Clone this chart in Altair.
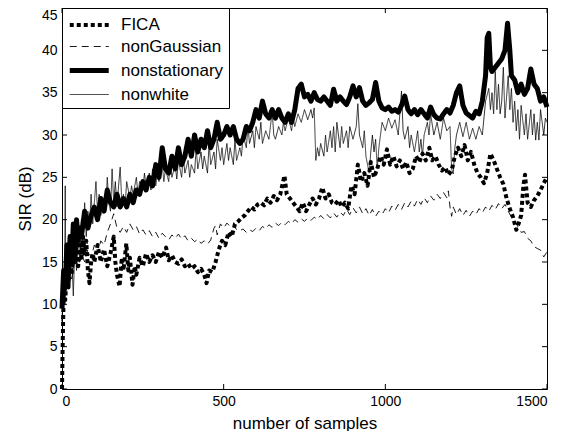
import altair as alt
import pandas as pd

# ---------------- data ----------------
series_names = ["FICA", "nonGaussian", "nonstationary", "nonwhite"]

ns_x = [0, 5, 10, 15, 20, 25, 30, 35, 40, 45, 50, 55, 60, 70, 80, 90, 100, 110, 120, 130,
        140, 150, 160, 170, 180, 190, 200, 210, 220, 230, 240, 250, 260, 270, 280, 290, 300,
        310, 320, 330, 340, 350, 360, 370, 380, 390, 400, 410, 420, 430, 440, 450, 460, 470,
        480, 490, 500, 510, 520, 530, 540, 550, 560, 570, 580, 590, 600, 610, 620, 630, 640,
        650, 660, 670, 680, 690, 700, 710, 720, 730, 740, 750, 760, 770, 780, 790, 800, 810,
        820, 830, 840, 850, 860, 870, 880, 890, 900, 910, 920, 930, 940, 950, 960, 970, 980,
        990, 1000, 1010, 1020, 1030, 1040, 1050, 1060, 1070, 1080, 1090, 1100, 1110, 1120,
        1130, 1140, 1150, 1160, 1170, 1180, 1190, 1200, 1210, 1220, 1230, 1240, 1250, 1260,
        1270, 1280, 1290, 1300, 1310, 1315, 1320, 1325, 1330, 1340, 1350, 1360, 1370, 1378,
        1385, 1390, 1400, 1410, 1420, 1430, 1440, 1450, 1460, 1470, 1480, 1490, 1500]
ns_y = [9.5, 14, 12, 17, 13.5, 18, 15, 19.5, 16, 20, 17.5, 19, 18, 21, 19, 20.5, 21.5, 20, 22.5, 21,
        23.5, 22, 21.5, 23, 21.5, 22.5, 21.5, 23, 22, 23.5, 23, 24.5, 23.5, 25, 24, 26.5, 25,
        28.5, 26, 25.5, 27.5, 26, 28.5, 26.5, 27.5, 29.5, 27.5, 30, 28, 29.5, 28.5, 30.5, 28.5, 29.5,
        31.5, 29.5, 30, 31, 30, 31, 29.5, 29, 29.5, 31, 30.5, 31.5, 33, 32, 34, 32.5, 32,
        33, 32, 33, 32, 31.5, 32.5, 31.5, 33, 35.5, 36, 34.5, 34.8, 34, 35, 34.2, 34, 34.5,
        34, 33.5, 35.4, 34, 34.5, 34, 33.6, 34.5, 35.8, 34.5, 35.6, 34, 33.5, 33.8, 34.2, 36.2, 34,
        33.2, 33, 33.3, 32.8, 33, 32.7, 33.5, 34.6, 33, 32.5, 33, 32.4, 33, 32.5,
        32, 33.3, 32.4, 32, 31.9, 32.5, 33, 32.6, 33.5, 35, 35.8, 33.5, 32.6, 32.3,
        32, 32.8, 32.5, 34, 37, 41.5, 42, 38, 37.5, 38, 38.5, 39, 40, 43.2,
        40, 37, 36.5, 35, 36, 34.8, 35.5, 37.8, 36, 35.5, 34, 34.5, 33.3]

nw_x = [0, 5, 8, 10, 12, 18, 25, 30, 35, 40, 45, 50, 55, 60, 65, 70, 75, 80, 85, 90, 95, 100,
        105, 110, 115, 120, 130, 135, 140, 145, 150, 155, 160, 165, 170, 175, 180, 185, 190,
        195, 200, 210, 215, 220, 230, 235, 240, 250, 255, 260, 270, 275, 280, 290, 295, 300,
        310, 315, 320, 330, 335, 340, 350, 355, 360, 370, 375, 380, 390, 395, 400, 410, 415,
        420, 430, 435, 440, 450, 455, 460, 470, 475, 480, 490, 495, 500, 510, 515, 520, 530,
        535, 540, 550, 555, 560, 570, 575, 580, 590, 595, 600, 610, 615, 620, 630, 640, 650,
        655, 660, 670, 680, 685, 690, 700, 710, 715, 720, 730, 740, 750, 760, 770, 775, 780,
        785, 790, 795, 800, 810, 815, 820, 830, 835, 840, 845, 850, 860, 865, 870, 880, 885,
        890, 900, 910, 915, 920, 930, 935, 940, 950, 955, 960, 965, 970, 975, 980, 990, 1000,
        1010, 1020, 1030, 1040, 1050, 1055, 1060, 1070, 1075, 1080, 1090, 1100, 1105, 1110,
        1115, 1120, 1130, 1135, 1140, 1150, 1160, 1170, 1180, 1190, 1200, 1205, 1210, 1215,
        1220, 1230, 1240, 1250, 1260, 1270, 1280, 1290, 1300, 1310, 1320, 1325, 1330, 1335,
        1340, 1345, 1350, 1355, 1360, 1365, 1370, 1380, 1385, 1390, 1395, 1400, 1405, 1410,
        1415, 1420, 1430, 1435, 1440, 1450, 1455, 1460, 1465, 1470, 1475, 1480, 1490, 1495, 1500]
nw_y = [8, 13, 11, 24, 12, 15, 12.5, 16, 11, 17, 14, 18, 15, 20, 17, 22, 18, 21, 19, 23, 19.5, 22,
        24.5, 21, 23, 20.5, 22.5, 21, 25, 22, 21, 26, 22, 24.5, 21.5, 24, 26.2, 22, 23,
        21.5, 24.5, 22.5, 24, 23, 25, 23, 24.5, 23.5, 25.5, 24, 25.5, 23.5, 26, 24, 25.5, 24.5,
        26.5, 24.5, 26, 24.5, 27, 25, 26.5, 24.8, 27, 25, 27.5, 25.5, 27, 25, 26.5, 25.5, 28.5,
        26, 28, 26, 27.5, 25.5, 29, 26.5, 28, 26, 29.5, 27, 28.5, 26.5, 29, 27, 28.5, 26.5,
        29.5, 27, 28.5, 27.5, 30, 28.5, 31, 29, 30.5, 28.5, 31, 29.5, 31.5, 29, 30.5, 29.5, 32.8,
        30, 29.5, 31, 30, 31.5, 30.5, 32, 30.5, 32, 31, 32.5, 31.5, 33, 31.8, 33, 32, 33.2,
        27, 28.5, 27.5, 29, 27.5, 30, 28, 30.5, 28.5, 31, 28, 31.5, 28.5, 31, 29, 30.5, 28.5,
        31, 29.5, 31, 33.7, 30, 28.5, 30.5, 27.5, 25.5, 28, 30, 28, 29.5, 26, 28.5, 31.5, 30.5,
        32, 30.8, 31.8, 30, 35.2, 30.5, 29.5, 31, 28.5, 30, 28, 30.5, 28, 29.5,
        27.5, 30, 31.5, 30, 32.5, 30, 31.5, 29.5, 32, 30.5, 31, 26, 25.4, 28.5,
        30, 31.5, 29.8, 31.5, 29.5, 30.8, 29.5, 31, 30, 34, 35.5, 33, 35, 32.5,
        37.5, 33, 36, 32.5, 34, 38, 32, 37, 33, 35.5, 31.5, 34, 30.5, 33,
        29.5, 33.5, 30, 32.5, 29.5, 33, 30, 32.5, 29.4, 31.5, 29.4, 33, 30, 32, 31.5]

fica_x = [0, 2, 4, 6, 10, 15, 20, 25, 30, 35, 40, 45, 50, 55, 60, 65, 70, 75, 80, 85, 90, 95,
          100, 110, 120, 130, 140, 150, 160, 165, 170, 178, 185, 190, 199, 205, 210, 218, 225,
          230, 240, 250, 260, 270, 280, 290, 300, 310, 322, 330, 340, 350, 360, 370, 380, 390,
          400, 410, 420, 430, 440, 447, 455, 465, 475, 485, 495, 505, 515, 525, 535, 545, 555,
          565, 575, 585, 595, 605, 615, 625, 635, 645, 655, 665, 675, 688, 695, 705, 715, 725,
          735, 745, 755, 765, 775, 785, 795, 805, 815, 825, 835, 845, 855, 865, 875, 885, 895,
          905, 915, 925, 935, 945, 955, 965, 975, 985, 995, 1005, 1015, 1025, 1035, 1045, 1055,
          1065, 1075, 1085, 1095, 1105, 1115, 1125, 1136, 1145, 1155, 1165, 1175, 1185, 1195,
          1205, 1215, 1225, 1235, 1245, 1255, 1265, 1275, 1285, 1295, 1305, 1315, 1325, 1335,
          1345, 1355, 1365, 1375, 1385, 1395, 1405, 1412, 1420, 1427, 1432, 1440, 1450, 1460,
          1470, 1480, 1490, 1500]
fica_y = [0, 5, 9, 12, 10.5, 14, 12, 16, 13.5, 17, 15, 17.5, 14.5, 17, 15.5, 18, 16, 17.5, 14, 12.5, 15, 16,
          15, 17, 15, 16.5, 14.5, 16, 18, 15, 13.5, 12.1, 15.5, 14, 17.2, 14, 15.5, 12.3, 14.5,
          13.5, 15.5, 14.5, 16, 15, 15.8, 15, 16.2, 15.5, 16.7, 15.2, 15.8, 15, 14.8, 15.3, 14.5, 14.8,
          14.2, 14.5, 13.8, 14.2, 13.5, 12.5, 14, 13.8, 15, 16.5, 17.5, 17, 18.5, 18, 19.5, 19.8, 20.2,
          20.5, 21, 21.5, 21.2, 21.8, 22, 21.7, 22.5, 22, 22.8, 22.3, 23, 25.2, 23, 22.5, 22, 21.5,
          21, 22, 21, 21.8, 22.5, 21.8, 22.5, 23.8, 22.5, 23, 22, 21.8, 22.3, 21.5, 22, 21.3, 24,
          23, 26.5, 24.5, 25.5, 24, 26.8, 25, 26, 27.5, 26.5, 28.3, 26.5, 27.5, 26.3, 27, 26,
          26.8, 25.5, 26, 27.5, 26.8, 27.8, 27, 28.5, 27, 27.5, 26.5, 25.8, 26.2, 25.3,
          25.8, 27.5, 28.5, 27.5, 28.8, 27, 28, 26.5, 25.5, 25, 24.3, 25.5, 27.8, 27,
          26, 25, 24.2, 22.5, 21.3, 20.3, 18.8, 19.5, 20.5, 24, 25.3, 22, 21.5, 22.3,
          22.8, 23.5, 24.3, 25]

ng_x = [0, 5, 10, 15, 20, 30, 40, 50, 60, 70, 80, 90, 100, 110, 120, 130, 140, 150, 160, 170,
        180, 190, 200, 210, 220, 230, 240, 250, 260, 270, 280, 290, 300, 310, 320, 330, 340,
        350, 360, 370, 380, 390, 400, 410, 420, 430, 440, 450, 460, 470, 475, 480, 490, 500,
        510, 520, 530, 540, 550, 560, 570, 580, 590, 600, 610, 620, 630, 640, 650, 660, 670,
        680, 690, 700, 710, 720, 730, 740, 750, 760, 770, 780, 790, 800, 810, 820, 830, 840,
        850, 860, 870, 880, 890, 900, 910, 920, 930, 940, 950, 960, 970, 980, 990, 1000, 1010,
        1020, 1030, 1040, 1050, 1060, 1070, 1080, 1090, 1100, 1110, 1120, 1130, 1140, 1150,
        1160, 1170, 1180, 1190, 1195, 1200, 1205, 1210, 1220, 1230, 1240, 1250, 1260, 1270,
        1280, 1290, 1300, 1310, 1320, 1330, 1340, 1350, 1360, 1370, 1380, 1390, 1400, 1410,
        1420, 1430, 1440, 1450, 1460, 1470, 1480, 1490, 1500]
ng_y = [8, 11, 13, 11.5, 14, 13, 15.5, 14.5, 16, 15, 16.5, 15.5, 17, 16, 17.5, 17, 18.5, 19.5, 20.7, 19,
        18.5, 19.2, 18.5, 19.5, 18.8, 19.2, 18.3, 18.8, 18.2, 18.7, 18, 18.5, 17.8, 18.4, 18, 17.6, 18.2,
        17.8, 18.3, 17.7, 18.1, 17.5, 17.8, 17.4, 17.7, 17.2, 17.5, 17.1, 17.6, 19, 19.3, 18.2, 19.5, 19,
        19.6, 19.2, 19.5, 18.8, 18.7, 18.9, 18.5, 18.8, 18.6, 19, 18.7, 19.2, 18.9, 19.4, 19.1, 19.6, 19.3,
        19.7, 19.4, 19.8, 19.5, 20, 19.7, 20.1, 19.8, 20.2, 19.9, 20.3, 20, 20.5, 20.1, 20.6, 20.2, 20.8,
        20.3, 20.9, 20.5, 21.2, 20.6, 21.4, 20.8, 21.5, 20.7, 21.3, 20.5, 21.2, 20.4, 21, 20.6, 21.3, 20.8,
        21.6, 21.1, 21.8, 21.2, 22, 21.5, 22.2, 21.6, 22.4, 21.8, 22.6, 22, 22.8, 22.3,
        23, 22.5, 23.2, 22.6, 23.4, 21.5, 20.4, 21.5, 20.6, 21.3, 20.5, 21.1, 20.4, 21,
        20.6, 21.3, 20.8, 21.5, 21, 21.7, 21.2, 21.9, 21.3, 21.8, 21, 20.3, 19.8, 19.2,
        18.5, 18.6, 17.8, 17.5, 16.8, 16.6, 16.4, 15.6, 16.2]

x_ticks = [0, 500, 1000, 1500]
y_ticks = [0, 5, 10, 15, 20, 25, 30, 35, 40, 45]

# ---------------- build table ----------------
rows = []
for name, xs, ys in [("FICA", fica_x, fica_y), ("nonGaussian", ng_x, ng_y),
                     ("nonstationary", ns_x, ns_y), ("nonwhite", nw_x, nw_y)]:
    for xv, yv in zip(xs, ys):
        rows.append({"series": name, "n": xv, "sir": yv})
df = pd.DataFrame(rows)

W, H = 485, 381
FONT = "Liberation Sans"
xscale = alt.Scale(domain=[0, 1500], nice=False, zero=False)
yscale = alt.Scale(domain=[0, 45], nice=False, zero=False)
XT = "number of samples"
YT = "SIR (dB)"

legend = alt.Legend(title=None, orient="none", legendX=0, legendY=0)

lines = alt.Chart(df).mark_line(color="black", strokeJoin="round", strokeCap="butt").encode(
    x=alt.X("n:Q", scale=xscale, title=XT, axis=alt.Axis(values=x_ticks, format="d")),
    y=alt.Y("sir:Q", scale=yscale, title=YT,
            axis=alt.Axis(values=y_ticks,
                          labelBaseline={"condition": {"test": "datum.value == 45", "value": "top"},
                                         "value": "middle"})),
    strokeDash=alt.StrokeDash("series:N",
                              scale=alt.Scale(domain=series_names,
                                              range=[[4, 3], [7, 5], [1, 0], [1, 0]]),
                              legend=legend),
    strokeWidth=alt.StrokeWidth("series:N",
                                scale=alt.Scale(type="ordinal", domain=series_names,
                                                range=[4, 0.9, 5, 0.8]),
                                legend=legend),
)

tx = pd.DataFrame({"n": x_ticks})
ty = pd.DataFrame({"sir": y_ticks})
tick_bottom = alt.Chart(tx).mark_rule(color="black", strokeWidth=1).encode(
    x=alt.X("n:Q", scale=xscale, title=XT), y=alt.value(H), y2=alt.value(H - 5))
tick_top = alt.Chart(tx).mark_rule(color="black", strokeWidth=1).encode(
    x=alt.X("n:Q", scale=xscale, title=XT), y=alt.value(0), y2=alt.value(5))
tick_left = alt.Chart(ty).mark_rule(color="black", strokeWidth=1).encode(
    y=alt.Y("sir:Q", scale=yscale, title=YT), x=alt.value(0), x2=alt.value(5))
tick_right = alt.Chart(ty).mark_rule(color="black", strokeWidth=1).encode(
    y=alt.Y("sir:Q", scale=yscale, title=YT), x=alt.value(W), x2=alt.value(W - 5))

chart = alt.layer(lines, tick_bottom, tick_top, tick_left, tick_right).properties(
    width=W, height=H,
    autosize=alt.AutoSizeParams(type="none"),
    padding={"left": 54, "top": 0, "right": 25, "bottom": 42},
    background="white",
).configure_view(
    stroke="black", strokeWidth=1
).configure_axis(
    domain=False, ticks=False, tickSize=0, grid=False,
    labelFont=FONT, labelFontSize=14, labelColor="black",
    titleFont=FONT, titleFontSize=17, titleFontWeight="normal", titleColor="black",
).configure_axisX(
    labelPadding=5, titlePadding=7,
).configure_axisY(
    labelPadding=5, titlePadding=7,
).configure_legend(
    symbolType="M-1,0H3", symbolSize=380, symbolStrokeColor="black", symbolFillColor="transparent",
    labelFont=FONT, labelFontSize=17, labelColor="black", labelOffset=29,
    strokeColor="black", fillColor="white", padding=5, rowPadding=3, cornerRadius=0,
)

chart.save("out.html", embed_options={"renderer": "svg", "actions": False})
